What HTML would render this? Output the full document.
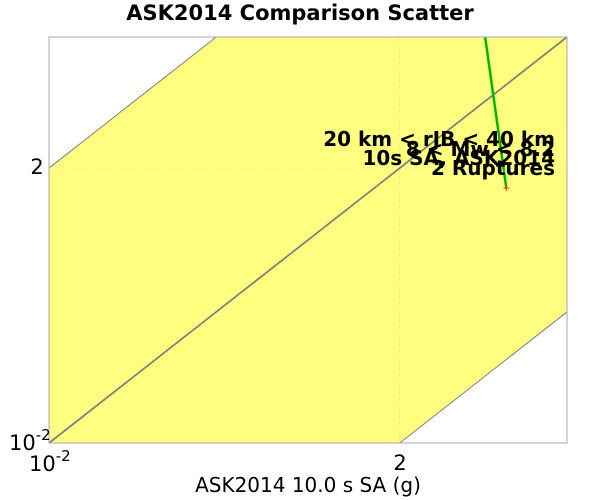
<!DOCTYPE html>
<html><head><meta charset="utf-8"><style>html,body{margin:0;background:#fff;overflow:hidden;width:600px;height:500px}svg{display:block;font-family:"DejaVu Sans","Liberation Sans",sans-serif}</style></head>
<body>
<svg id="c" width="600" height="500">
<text x="300" y="20" text-anchor="middle" font-weight="bold" font-size="21">ASK2014 Comparison Scatter</text>
<rect x="49" y="37" width="518" height="406" fill="#fff"/>
<g id="plot"></g>
<rect x="49" y="37" width="518" height="406" fill="none" stroke="#aaa"/>
<g font-size="21" fill="#000">
<text x="9" y="450">10<tspan dy="-10" font-size="15">-2</tspan></text>
<text x="37" y="174" text-anchor="middle">2</text>
<text x="29" y="471">10<tspan dy="-10" font-size="15">-2</tspan></text>
<text x="400" y="470" text-anchor="middle">2</text>
</g>
<text x="308" y="492" text-anchor="middle" font-size="20">ASK2014 10.0 s SA (g)</text>
<g font-weight="bold" font-size="20" text-anchor="end">
<text x="555" y="146">20 km &lt; rJB &lt; 40 km</text>
<text x="555" y="156">8 &lt; Mw &lt; 8.2</text>
<text x="555" y="165">10s SA, ASK2014</text>
<text x="555" y="175">2 Ruptures</text>
</g>
</svg>
<script>
const axisMin = 0.01, axisMax = 25;
const bandFactor = [200];
const pointX = [10];
const pointY = [1.36];
const lineX = [10, 7.26];
const lineY = [1.36, 25];
const L=49,R=567,T=37,B=443;
const ld=Math.log10(axisMax)-Math.log10(axisMin);
const sx=v=>L+(Math.log10(v)-Math.log10(axisMin))/ld*(R-L);
const sy=v=>B-(Math.log10(v)-Math.log10(axisMin))/ld*(B-T);
const NS="http://www.w3.org/2000/svg";
const g=document.getElementById('plot');
function mk(t,a){const e=document.createElementNS(NS,t);for(const k in a)e.setAttribute(k,a[k]);g.appendChild(e);return e;}
const cp=mk('clipPath',{id:'clip'});
const cr=document.createElementNS(NS,'rect');cr.setAttribute('x',L);cr.setAttribute('y',T);cr.setAttribute('width',R-L);cr.setAttribute('height',B-T);cp.appendChild(cr);
const f=bandFactor[0];
const lo=axisMin/1000, hi=axisMax*1000;
const band=mk('polygon',{points:[[lo,lo*f],[hi,hi*f],[hi,hi/f],[lo,lo/f]].map(p=>sx(p[0])+','+sy(p[1])).join(' '),fill:'#ffff80',stroke:'#808080','stroke-width':1,'clip-path':'url(#clip)'});


const gx=mk('line',{x1:sx(2),x2:sx(2),y1:T,y2:B,stroke:'#e6e6a0','stroke-dasharray':'3,3'});


const gy=mk('line',{x1:L,x2:R,y1:sy(2),y2:sy(2),stroke:'#e6e6a0','stroke-dasharray':'3,3'});


const diag=mk('line',{x1:sx(axisMin),y1:sy(axisMin),x2:sx(axisMax),y2:sy(axisMax),stroke:'#808080','stroke-width':1.8});


const gl=mk('polyline',{points:lineX.map((v,i)=>sx(v)+','+sy(lineY[i])).join(' '),fill:'none',stroke:'#00b400','stroke-width':2.5,'clip-path':'url(#clip)'});


pointX.forEach((v,i)=>{
 const x=sx(v),y=sy(pointY[i]);
 const m=mk('path',{d:`M${x-3},${y}H${x+3}M${x},${y-3}V${y+3}`,stroke:'#e05020','stroke-width':1.2});
 
 
});
</script>
</body></html>
